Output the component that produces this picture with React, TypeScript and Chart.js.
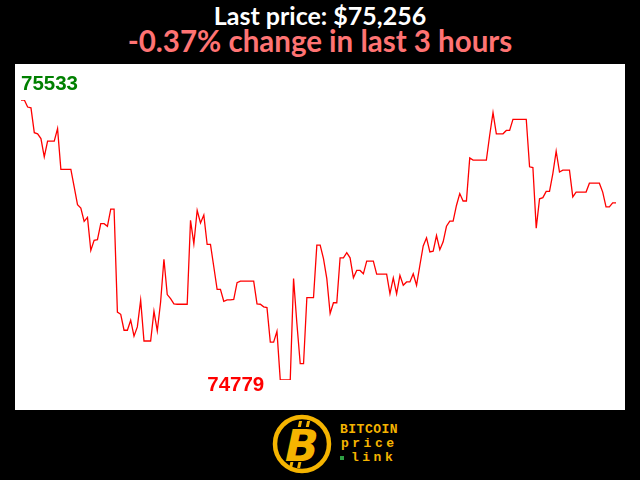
import React, { useEffect, useRef } from "react";
import { Chart, registerables } from "chart.js";

Chart.register(...registerables);

const TITLE_LINE = "Last price: $75,256";
const CHANGE_LINE = "-0.37% change in last 3 hours";
const LOGO_LINES = ["BITCOIN", "price", "link"];

// one price per minute over the last 3 hours
const prices: number[] = [
  75533, 75533, 75514, 75512, 75445, 75442, 75429, 75380, 75422, 75422,
  75422, 75456, 75346, 75346, 75346, 75346, 75299, 75251, 75242, 75206,
  75217, 75128, 75155, 75157, 75200, 75200, 75193, 75239, 75239, 74962,
  74956, 74913, 74913, 74940, 74897, 74922, 74994, 74884, 74884, 74884,
  74964, 74911, 74989, 75104, 75009, 74998, 74984, 74983, 74983, 74983,
  74983, 75209, 75146, 75236, 75202, 75223, 75144, 75144, 75084, 75023,
  75023, 74991, 74995, 74995, 74996, 75041, 75045, 75045, 75045, 75045,
  75045, 74984, 74983, 74976, 74974, 74881, 74881, 74910, 74779, 74779,
  74779, 74779, 75052, 74931, 74823, 74823, 75001, 75001, 75001, 75142,
  75142, 75106, 75052, 74958, 74987, 74987, 75108, 75108, 75122, 75108,
  75054, 75074, 75074, 75065, 75099, 75099, 75099, 75064, 75064, 75064,
  75064, 75011, 75054, 75011, 75061, 75034, 75043, 75043, 75065, 75034,
  75088, 75140, 75162, 75124, 75126, 75168, 75130, 75151, 75193, 75207,
  75207, 75249, 75281, 75261, 75261, 75377, 75371, 75371, 75371, 75371,
  75371, 75438, 75499, 75442, 75442, 75442, 75451, 75451, 75481, 75481,
  75481, 75481, 75481, 75353, 75351, 75188, 75267, 75270, 75287, 75287,
  75335, 75395, 75339, 75344, 75344, 75344, 75272, 75285, 75285, 75285,
  75285, 75309, 75309, 75309, 75309, 75285, 75245, 75245, 75256, 75256,
];

const minutes: string[] = prices.map((_, i) => String(i));

const extremaLabels = {
  id: "extremaLabels",
  afterDatasetsDraw(chart: any) {
    const meta = chart.getDatasetMeta(0);
    const data = chart.data.datasets[0].data as number[];
    const maxV = Math.max(...data);
    const minV = Math.min(...data);
    const iMax = data.indexOf(maxV);
    const iMin = data.indexOf(minV);
    const ctx = chart.ctx as CanvasRenderingContext2D;
    ctx.save();
    ctx.font = "bold 20.5px 'Liberation Sans', Arial, sans-serif";
    ctx.textBaseline = "alphabetic";
    const pMax = meta.data[iMax];
    ctx.fillStyle = "#008000";
    ctx.textAlign = "left";
    ctx.fillText(String(maxV), pMax.x, pMax.y - 10);
    const pMin = meta.data[iMin];
    ctx.fillStyle = "#ff0000";
    ctx.textAlign = "right";
    ctx.fillText(String(minV), pMin.x - 16, pMin.y + 11);
    ctx.restore();
  },
};

function PriceChart() {
  const ref = useRef<HTMLCanvasElement | null>(null);
  useEffect(() => {
    if (!ref.current) return;
    const minV = Math.min(...prices);
    const maxV = Math.max(...prices);
    const chart = new Chart(ref.current, {
      type: "line",
      data: {
        labels: minutes,
        datasets: [
          {
            data: prices,
            borderColor: "#ff0000",
            borderWidth: 1.3,
            pointRadius: 0,
            tension: 0,
            fill: false,
          },
        ],
      },
      options: {
        animation: false,
        responsive: false,
        maintainAspectRatio: false,
        layout: { padding: { left: 6, right: 9, top: 36, bottom: 30 } },
        plugins: { legend: { display: false }, tooltip: { enabled: false }, title: { display: false } },
        scales: {
          x: { type: "category", display: false, offset: false },
          y: { type: "linear", display: false, min: minV, max: maxV },
        },
      },
      plugins: [extremaLabels],
    });
    return () => chart.destroy();
  }, []);
  return <canvas ref={ref} width={610} height={346} style={{ display: "block" }} />;
}

function Logo() {
  const gold = "#f5b400";
  return (
    <div style={{ position: "absolute", left: 270, top: 412, width: 140, height: 66 }}>
      <svg width={66} height={66} style={{ position: "absolute", left: 0, top: 0 }}>
        <circle cx={32} cy={32} r={27} fill="#000" stroke={gold} strokeWidth={4.5} />
        <g transform="translate(32 33) skewX(-12)">
          <rect x={-8} y={-24} width={3} height={6} fill={gold} />
          <rect x={0} y={-24} width={3} height={6} fill={gold} />
          <rect x={-8} y={17} width={3} height={6} fill={gold} />
          <rect x={0} y={17} width={3} height={6} fill={gold} />
          <text x={0} y={16} textAnchor="middle" fontFamily="'DejaVu Sans', sans-serif" fontWeight={900} fontSize={44} fill={gold}>B</text>
        </g>
      </svg>
      <div style={{ position: "absolute", left: 70, top: 11, color: gold, fontFamily: "'Liberation Mono', 'DejaVu Sans Mono', monospace", fontWeight: "bold", fontSize: 13, lineHeight: "14px" }}>
        <div style={{ letterSpacing: 0.5 }}>{LOGO_LINES[0]}</div>
        <div style={{ letterSpacing: 3.5, marginLeft: 1 }}>{LOGO_LINES[1]}</div>
        <div style={{ letterSpacing: 3.5, position: "relative" }}>
          <span style={{ display: "inline-block", width: 4, height: 4, background: "#2ea043", marginRight: 7, verticalAlign: "middle" }} />
          {LOGO_LINES[2]}
        </div>
      </div>
    </div>
  );
}

export default function App() {
  return (
    <div style={{ position: "fixed", left: 0, top: 0, width: 640, height: 480, background: "#000", overflow: "hidden" }}>
      <div style={{ position: "absolute", left: 0, top: 1, width: 640, textAlign: "center", color: "#fff", fontFamily: "Lato, 'Open Sans', sans-serif", fontWeight: 700, fontSize: 25, lineHeight: "28px" }}>
        {TITLE_LINE}
      </div>
      <div style={{ position: "absolute", left: 0, top: 24, width: 640, textAlign: "center", color: "#ff7373", fontFamily: "Lato, 'Open Sans', sans-serif", fontWeight: 700, fontSize: 29.5, lineHeight: "34px" }}>
        {CHANGE_LINE}
      </div>
      <div style={{ position: "absolute", left: 15, top: 64, width: 610, height: 346, background: "#fff" }}>
        <PriceChart />
      </div>
      <Logo />
    </div>
  );
}
